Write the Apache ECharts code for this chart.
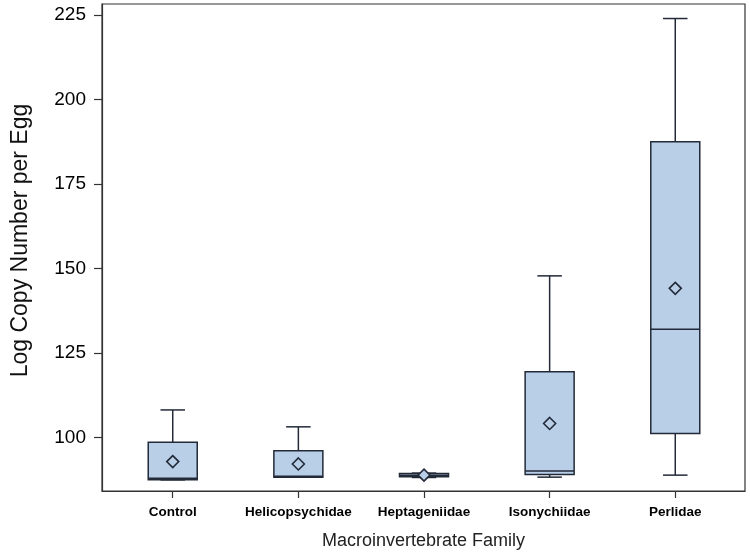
<!DOCTYPE html>
<html>
<head>
<meta charset="utf-8">
<script src="https://cdn.jsdelivr.net/npm/echarts@6/dist/echarts.min.js"></script>
<style>html,body{margin:0;padding:0;background:#fff}#c{width:750px;height:558px}</style>
</head>
<body>
<div id="c"></div>
<script>
const categories = ['Control', 'Helicopsychidae', 'Heptageniidae', 'Isonychiidae', 'Perlidae'];
const whiskerLow = [87.4, 88.2, 88.1, 88.2, 88.8];
const q1 = [87.4, 88.2, 88.3, 89.0, 101.1];
const median = [87.9, 88.5, 88.8, 90.0, 132.0];
const q3 = [98.5, 96.0, 89.3, 119.4, 187.5];
const whiskerHigh = [108.1, 103.1, 89.4, 147.8, 224.0];
const means = [92.8, 92.1, 88.8, 104.1, 144.1];
const yTicks = [100, 125, 150, 175, 200, 225];
const catIdx = [0, 1, 2, 3, 4];

const FILL = '#b9cfe8';
const STROKE = '#222a38';

const data = categories.map((c, i) => [i, whiskerLow[i], q1[i], median[i], q3[i], whiskerHigh[i], means[i]]);

function renderItem(params, api) {
  const x = api.value(0);
  const halfW = api.size([0.39, 0])[0] / 2;
  const capHalf = halfW / 2;
  const pLow = api.coord([x, api.value(1)]);
  const pQ1 = api.coord([x, api.value(2)]);
  const pMed = api.coord([x, api.value(3)]);
  const pQ3 = api.coord([x, api.value(4)]);
  const pHigh = api.coord([x, api.value(5)]);
  const pMean = api.coord([x, api.value(6)]);
  const cx = pQ1[0];
  const ls = {stroke: STROKE, lineWidth: 1.5};
  const d = 6;
  return {
    type: 'group',
    children: [
      {type: 'line', shape: {x1: cx, y1: pQ3[1], x2: cx, y2: pHigh[1]}, style: ls},
      {type: 'line', shape: {x1: cx - capHalf, y1: pHigh[1], x2: cx + capHalf, y2: pHigh[1]}, style: ls},
      {type: 'line', shape: {x1: cx, y1: pQ1[1], x2: cx, y2: pLow[1]}, style: ls},
      {type: 'line', shape: {x1: cx - capHalf, y1: pLow[1], x2: cx + capHalf, y2: pLow[1]}, style: ls},
      {type: 'rect', shape: {x: cx - halfW, y: pQ3[1], width: halfW * 2, height: Math.max(pQ1[1] - pQ3[1], 1)},
        style: {fill: FILL, stroke: STROKE, lineWidth: 1.5}},
      {type: 'line', shape: {x1: cx - halfW, y1: pMed[1], x2: cx + halfW, y2: pMed[1]}, style: ls},
      {type: 'polygon', shape: {points: [[cx, pMean[1] - d], [cx + d, pMean[1]], [cx, pMean[1] + d], [cx - d, pMean[1]]]},
        style: {fill: FILL, stroke: STROKE, lineWidth: 1.6}}
    ]
  };
}

const chart = echarts.init(document.getElementById('c'));
chart.setOption({
  animation: false,
  backgroundColor: '#fff',
  grid: {left: 102, top: 4, right: 5, bottom: 67, show: true, borderColor: '#333', borderWidth: 1.2, backgroundColor: 'transparent'},
  xAxis: {
    type: 'value', min: -0.563, max: 4.555,
    axisLine: {show: true, onZero: false, lineStyle: {color: '#333', width: 1.2}},
    axisTick: {show: true, customValues: catIdx, length: 7, lineStyle: {color: '#333', width: 1.2}},
    axisLabel: {show: true, customValues: catIdx, formatter: v => categories[Math.round(v)] || '',
      fontFamily: 'Liberation Sans', fontWeight: 'bold', fontSize: 13.5, color: '#000', margin: 14},
    splitLine: {show: false},
    name: 'Macroinvertebrate Family', nameLocation: 'middle', nameGap: 41,
    nameTextStyle: {fontFamily: 'Liberation Sans', fontSize: 18, color: '#222'}
  },
  yAxis: {
    type: 'value', min: 84.1, max: 228.3,
    axisLine: {show: true, onZero: false, lineStyle: {color: '#333', width: 1.2}},
    axisTick: {show: true, customValues: yTicks, length: 8, lineStyle: {color: '#333', width: 1.2}},
    axisLabel: {show: true, customValues: yTicks, fontFamily: 'Liberation Sans', fontSize: 19, color: '#000', margin: 16},
    splitLine: {show: false},
    name: 'Log Copy Number per Egg', nameLocation: 'middle', nameGap: 70, nameRotate: 90,
    nameTextStyle: {fontFamily: 'Liberation Sans', fontSize: 23, color: '#111', padding: [0, 0, 0, 14]}
  },
  series: [{
    type: 'custom',
    renderItem: renderItem,
    data: data,
    encode: {x: 0, y: [1, 2, 3, 4, 5, 6]},
    clip: false
  }]
});
</script>
</body>
</html>
